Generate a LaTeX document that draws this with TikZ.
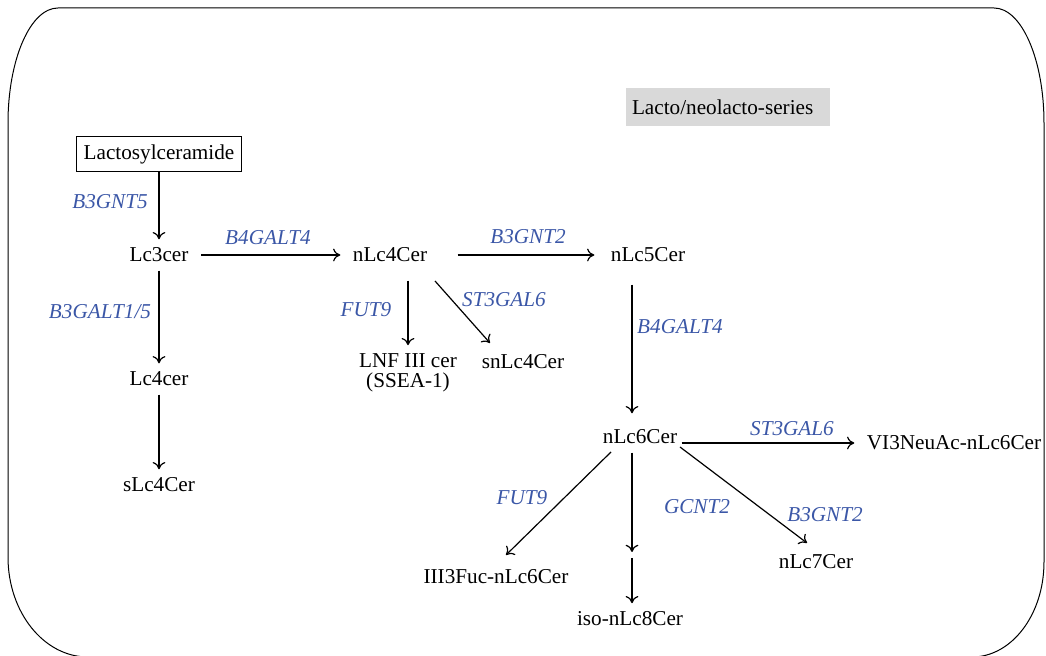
\documentclass[tikz,border=0pt]{standalone}
\usepackage{fontspec}
\setmainfont{Liberation Serif}
\usepackage{xcolor}
\usetikzlibrary{arrows.meta}
\definecolor{geneblue}{RGB}{59,87,167}
\definecolor{seriesgray}{RGB}{217,217,217}

\begin{document}
\begin{tikzpicture}[x=0.5pt,y=-0.5pt,line width=0.6pt,>={To[length=3.6pt,width=6.4pt]},
  font=\fontsize{10.6}{10}\selectfont,
  mol/.style={inner xsep=6pt,inner ysep=4pt},
  gene/.style={text=geneblue,font=\fontsize{10.6}{10}\selectfont\itshape}]
\useasboundingbox (0,0) rectangle (1046,656);
\draw[line width=0.5pt] (58,8) -- (994,8) arc[start angle=-90,end angle=0,x radius=50,y radius=115]
  -- (1044,562) arc[start angle=0,end angle=90,x radius=72,y radius=95]
  -- (88,657) arc[start angle=90,end angle=180,x radius=80,y radius=100]
  -- (8,123) arc[start angle=180,end angle=270,x radius=50,y radius=115] -- cycle;

\node[fill=seriesgray,minimum width=102pt,minimum height=19pt,text width=96pt,inner xsep=3pt,align=left] (series) at (728,107) {Lacto/neolacto-series};

\node[draw,inner xsep=3.5pt,inner ysep=3.75pt] (lacto) at (159,154) {Lactosylceramide};
\node[mol] (lcthree) at (159,255) {Lc3cer};
\node[mol] (lcfour) at (159,379) {Lc4cer};
\node[mol] (slcfour) at (159,485) {sLc4Cer};
\node[mol] (nlcfour) at (390,255) {nLc4Cer};
\node[mol] (nlcfive) at (648,255) {nLc5Cer};
\node[mol,align=center] (lnf) at (408,373) {LNF III cer\\(SSEA-1)};
\node[mol] (snlcfour) at (523,362) {snLc4Cer};
\node[mol] (nlcsix) at (640,437) {nLc6Cer};
\node[mol] (vithree) at (954,443) {VI3NeuAc-nLc6Cer};
\node[mol] (fuc) at (496,577) {III3Fuc-nLc6Cer};
\node[mol] (iso) at (630,619) {iso-nLc8Cer};
\node[mol] (nlcseven) at (816,562) {nLc7Cer};
\coordinate (mid) at (632,555);

\node[gene] (bthreegntfive) at (110,202) {B3GNT5};
\node[gene] (bthreegalt) at (100,312) {B3GALT1/5};
\node[gene] (bfourgaltA) at (268,238) {B4GALT4};
\node[gene] (bthreegnttwoA) at (528,237) {B3GNT2};
\node[gene] (futnineA) at (366,310) {FUT9};
\node[gene] (stthreegalA) at (504,300) {ST3GAL6};
\node[gene] (bfourgaltB) at (680,327) {B4GALT4};
\node[gene] (stthreegalB) at (792,429) {ST3GAL6};
\node[gene] (futnineB) at (522,498) {FUT9};
\node[gene] (gcnttwo) at (697,507) {GCNT2};
\node[gene] (bthreegnttwoB) at (825,515) {B3GNT2};

\draw[->] (lacto) -- (lcthree);
\draw[->] (lcthree) -- (lcfour);
\draw[->] (lcfour) -- (slcfour);
\draw[->] (lcthree) -- (nlcfour);
\draw[->,shorten <=9pt,shorten >=2pt] (nlcfour) -- (nlcfive);
\draw[->,shorten <=5pt] (nlcfour.south -| lnf) -- (lnf);
\draw[->] ([shift={(45,26)}]nlcfour.center) -- ([shift={(-33,-19)}]snlcfour.center);
\draw[->,shorten <=7pt,shorten >=4pt] (nlcfive.south -| mid) -- (nlcsix.north -| mid);
\draw[->,shorten <=-4pt] (nlcsix.east |- vithree.west) -- (vithree.west);
\draw[->] ([shift={(-29,15)}]nlcsix.center) -- ([shift={(10,-22)}]fuc.center);
\draw[->,shorten >=1.5pt] (nlcsix.south -| mid) -- (mid);
\draw[->,shorten <=1.5pt] (mid) -- (iso.north -| mid);
\draw[->] ([shift={(40,10)}]nlcsix.center) -- ([shift={(-9,-19)}]nlcseven.center);
\end{tikzpicture}
\end{document}
